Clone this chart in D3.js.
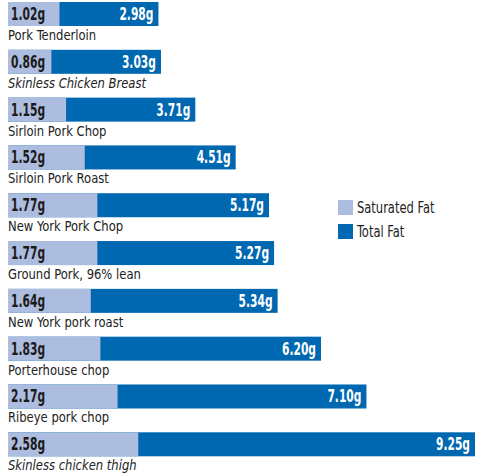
<!DOCTYPE html>
<html>
<head>
<meta charset="utf-8">
<script src="https://cdn.jsdelivr.net/npm/d3@7"></script>
<style>
  body { margin: 0; background: #fff; }
  svg { display: block; }
  text { font-family: "Liberation Sans Narrow", "DejaVu Sans Condensed", sans-serif; }
</style>
</head>
<body>
<div id="chart"></div>
<script>
var categories = ["Pork Tenderloin", "Skinless Chicken Breast", "Sirloin Pork Chop", "Sirloin Pork Roast",
    "New York Pork Chop", "Ground Pork, 96% lean", "New York pork roast", "Porterhouse chop",
    "Ribeye pork chop", "Skinless chicken thigh"];
var italicCats = ["Skinless Chicken Breast", "Skinless chicken thigh"];
var saturatedFat = [1.02, 0.86, 1.15, 1.52, 1.77, 1.77, 1.64, 1.83, 2.17, 2.58];
var totalFat = [2.98, 3.03, 3.71, 4.51, 5.17, 5.27, 5.34, 6.20, 7.10, 9.25];
var seriesNames = ["Saturated Fat", "Total Fat"];

var width = 478, height = 476;
var colors = { sat: "#adbddf", total: "#0067b1" };
var barH = 24;
// squeeze text horizontally, the original uses a condensed face
var valueSquash = 0.7, labelSquash = 0.92, legendSquash = 0.8;

var svg = d3.select("#chart").append("svg")
    .attr("width", width)
    .attr("height", height);

var rows = categories.map(function(c, i) {
    return { name: c, sat: saturatedFat[i], total: totalFat[i] };
});

var x = d3.scaleLinear().domain([0, 9.25]).range([8, 475]);
var y = d3.scaleBand().domain(categories).range([2, 456.2]).paddingInner(0.5).paddingOuter(0);

var g = svg.selectAll("g.row").data(rows).enter().append("g")
    .attr("class", "row")
    .attr("transform", function(d) { return "translate(0," + y(d.name) + ")"; });

g.append("rect")
    .attr("x", x(0))
    .attr("width", function(d) { return x(d.total) - x(0); })
    .attr("height", barH)
    .attr("fill", colors.total);

g.append("rect")
    .attr("x", x(0))
    .attr("width", function(d) { return x(d.sat) - x(0); })
    .attr("height", barH)
    .attr("fill", colors.sat);

g.append("text")
    .attr("transform", "translate(" + (x(0) + 3) + ",18) scale(" + valueSquash + ",1)")
    .attr("font-size", 17)
    .attr("font-weight", "bold")
    .attr("fill", "#1a1a1a")
    .text(function(d) { return d.sat.toFixed(2) + "g"; });

g.append("text")
    .attr("transform", function(d) { return "translate(" + (x(d.total) - 5) + ",18) scale(" + valueSquash + ",1)"; })
    .attr("text-anchor", "end")
    .attr("font-size", 17)
    .attr("font-weight", "bold")
    .attr("fill", "#fff")
    .text(function(d) { return d.total.toFixed(2) + "g"; });

g.append("text")
    .attr("transform", "translate(" + x(0) + "," + (barH + 14) + ") scale(" + labelSquash + ",1)")
    .attr("font-size", 14)
    .attr("fill", "#222")
    .attr("font-style", function(d) { return italicCats.indexOf(d.name) >= 0 ? "italic" : "normal"; })
    .text(function(d) { return d.name; });

// legend
var legend = svg.selectAll("g.legend").data(seriesNames).enter().append("g")
    .attr("class", "legend")
    .attr("transform", function(d, i) { return "translate(338," + (200 + i * 24) + ")"; });

legend.append("rect")
    .attr("width", 15)
    .attr("height", 15)
    .attr("fill", function(d, i) { return i === 0 ? colors.sat : colors.total; });

legend.append("text")
    .attr("transform", "translate(19,13) scale(" + legendSquash + ",1)")
    .attr("font-size", 16)
    .attr("fill", "#222")
    .text(function(d) { return d; });
</script>
</body>
</html>
